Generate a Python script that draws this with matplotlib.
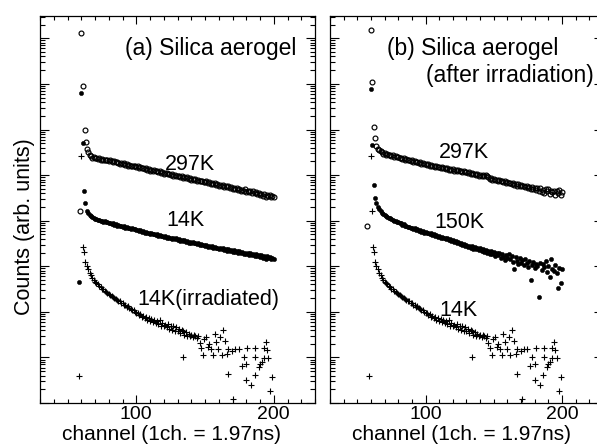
import numpy as np
import matplotlib
matplotlib.use("Agg")
import matplotlib.pyplot as plt
from matplotlib.ticker import LogLocator, NullFormatter, MultipleLocator

plt.rcParams['font.family'] = ['Liberation Sans', 'DejaVu Sans']

# values are log10(counts); channel axis is integer channels

# ---- panel (a) ----
a297_head_ch = [59, 60, 61, 62.5, 63.5, 64.4, 65, 66]
a297_head = [4.21, 8.11, 6.95, 6.00, 5.72, 5.57, 5.50, 5.44]
a297_ch0 = 67
a297 = [5.41, 5.38, 5.39, 5.37, 5.38, 5.36, 5.37, 5.34, 5.35, 5.33,
        5.34, 5.32, 5.33, 5.30, 5.32, 5.31, 5.29, 5.30, 5.28, 5.28,
        5.27, 5.25, 5.27, 5.24, 5.26, 5.23, 5.24, 5.21, 5.23, 5.20,
        5.21, 5.19, 5.20, 5.17, 5.19, 5.16, 5.18, 5.15, 5.16, 5.14,
        5.15, 5.12, 5.13, 5.10, 5.12, 5.09, 5.11, 5.08, 5.10, 5.07,
        5.08, 5.05, 5.07, 5.03, 5.05, 5.04, 5.02, 5.03, 5.00, 5.02,
        4.99, 5.01, 4.98, 4.97, 4.99, 4.95, 4.97, 4.94, 4.96, 4.93,
        4.95, 4.92, 4.93, 4.90, 4.92, 4.89, 4.91, 4.87, 4.89, 4.88,
        4.86, 4.88, 4.85, 4.84, 4.86, 4.82, 4.84, 4.81, 4.83, 4.80,
        4.82, 4.79, 4.80, 4.77, 4.79, 4.76, 4.78, 4.74, 4.76, 4.73,
        4.75, 4.72, 4.74, 4.70, 4.72, 4.69, 4.71, 4.67, 4.70, 4.66,
        4.68, 4.65, 4.69, 4.63, 4.66, 4.62, 4.65, 4.61, 4.64, 4.60,
        4.62, 4.58, 4.61, 4.56, 4.59, 4.55, 4.58, 4.53, 4.57, 4.54,
        4.56, 4.52, 4.55, 4.51]

a14_head_ch = [58.6, 60, 61.5, 62, 63]
a14_head = [2.65, 6.80, 5.70, 4.66, 4.39]
a14_ch0 = 64
a14 = [4.22, 4.16, 4.12, 4.10, 4.08,
       4.06, 4.03, 4.04, 4.01, 4.02, 3.99, 4.00, 3.98, 3.99, 3.96,
       3.97, 3.94, 3.95, 3.92, 3.94, 3.91, 3.92, 3.89, 3.91, 3.88,
       3.89, 3.86, 3.88, 3.85, 3.86, 3.83, 3.85, 3.82, 3.83, 3.81,
       3.81, 3.79, 3.80, 3.77, 3.79, 3.76, 3.77, 3.74, 3.76, 3.73,
       3.74, 3.71, 3.73, 3.70, 3.71, 3.69, 3.70, 3.67, 3.69, 3.66,
       3.67, 3.64, 3.66, 3.63, 3.65, 3.62, 3.63, 3.60, 3.62, 3.59,
       3.61, 3.58, 3.59, 3.56, 3.58, 3.55, 3.57, 3.54, 3.55, 3.52,
       3.54, 3.51, 3.53, 3.50, 3.51, 3.48, 3.50, 3.47, 3.49, 3.46,
       3.47, 3.44, 3.46, 3.43, 3.45, 3.42, 3.44, 3.41, 3.43, 3.40,
       3.41, 3.38, 3.40, 3.37, 3.39, 3.36, 3.38, 3.34, 3.37, 3.33,
       3.36, 3.32, 3.35, 3.31, 3.33, 3.30, 3.33, 3.28, 3.31, 3.27,
       3.30, 3.26, 3.29, 3.24, 3.28, 3.25, 3.27, 3.22, 3.26, 3.23,
       3.25, 3.20, 3.24, 3.19, 3.23, 3.17, 3.22, 3.18, 3.21, 3.16,
       3.19, 3.15]

# 14K after irradiation (same run shows in both panels)
irr_ch0 = 63
irr = [3.10, 3.00, 2.93, 2.85, 2.80, 2.75, 2.70, 2.66, 2.63, 2.60,
       2.57, 2.54, 2.51, 2.49, 2.46, 2.44, 2.41, 2.39, 2.36, 2.35,
       2.33, 2.31, 2.28, 2.27, 2.24, 2.23, 2.20, 2.19, 2.16, 2.15,
       2.11, 2.12, 2.08, 2.07, 2.03, 2.04, 2.00, 1.98, 1.97, 1.93,
       1.95, 1.89, 1.91, 1.86, 1.89, 1.82, 1.87, 1.80, 1.84, 1.77,
       1.82, 1.75, 1.79, 1.74, 1.81, 1.70, 1.76, 1.68, 1.72, 1.66,
       1.74, 1.63, 1.69, 1.60, 1.70, 1.58, 1.66, 1.57, 1.62, 1.54,
       1.60, 1.58, 1.50, 1.55, 1.47, 1.52, 1.46, 1.50, 1.44, 1.49,
       1.48, 1.42, 1.46]
irr_sc_ch = [58.6, 60, 61.5, 62, 133.7,
             146, 147, 148.6, 149.5, 151, 152, 153, 154.5, 156, 157, 158,
             159.5, 161, 162, 163, 164.8, 166, 167, 169.7, 172, 174.5,
             178, 180.6, 186.6, 192.7, 194, 195, 196, 176.7, 180, 186.6,
             189, 190, 191.5, 192.7, 180, 183.5, 186, 167, 170.6, 197.6, 198.9]
irr_sc = [0.60, 5.42, 3.43, 3.32, 1.00,
          1.32, 1.20, 1.06, 1.40, 1.45, 1.23, 1.30, 1.19, 1.06, 1.52, 1.33,
          1.19, 1.45, 1.05, 1.60, 1.36, 1.07, 1.19, 1.15, 1.19, 1.19,
          1.02, 1.21, 1.21, 1.21, 1.34, 1.16, 0.98, 0.82, 0.86, 1.02,
          0.80, 0.85, 0.91, 0.98, 0.50, 0.39, 0.61, 0.64, 0.09, 0.26, 0.57]

# ---- panel (b) ----
b297_head_ch = [57, 60, 61, 62, 63]
b297_head = [3.89, 8.18, 7.05, 6.06, 5.81]
b297_ch0 = 64
b297 = [5.63, 5.58, 5.56, 5.52, 5.51, 5.47, 5.48, 5.45, 5.46, 5.43,
        5.44, 5.41, 5.43, 5.40, 5.41, 5.39, 5.40, 5.37, 5.38, 5.35,
        5.37, 5.34, 5.36, 5.32, 5.34, 5.31, 5.32, 5.29, 5.31, 5.28,
        5.29, 5.27, 5.28, 5.25, 5.26, 5.24, 5.25, 5.22, 5.24, 5.21,
        5.22, 5.20, 5.21, 5.18, 5.20, 5.17, 5.18, 5.16, 5.17, 5.15,
        5.16, 5.14, 5.15, 5.12, 5.14, 5.11, 5.13, 5.10, 5.12, 5.09,
        5.11, 5.08, 5.10, 5.07, 5.08, 5.06, 5.07, 5.04, 5.06, 5.03,
        5.04, 5.02, 5.03, 5.00, 5.02, 4.99, 5.01, 4.98, 5.00, 4.98,
        5.00, 4.97, 4.95, 4.92, 4.93, 4.90, 4.92, 4.89, 4.90, 4.87,
        4.89, 4.86, 4.87, 4.85, 4.86, 4.83, 4.85, 4.82, 4.83, 4.80,
        4.82, 4.79, 4.81, 4.77, 4.80, 4.76, 4.78, 4.75, 4.77, 4.73,
        4.76, 4.72, 4.74, 4.70, 4.73, 4.69, 4.72, 4.67, 4.71, 4.66,
        4.72, 4.63, 4.68, 4.60, 4.69, 4.64, 4.70, 4.58, 4.66, 4.62,
        4.65, 4.56, 4.64, 4.61, 4.67, 4.57, 4.62]

b150_head_ch = [60, 60.7, 62, 63]
b150_head = [6.88, 5.66, 4.78, 4.49]
b150_ch0 = 64
b150 = [4.38, 4.30, 4.25, 4.21, 4.17, 4.15, 4.12, 4.10, 4.08, 4.06,
        4.05, 4.03, 4.02, 3.99, 4.00, 3.97, 3.96, 3.94, 3.95, 3.91,
        3.92, 3.88, 3.89, 3.86, 3.87, 3.84, 3.85, 3.81, 3.83, 3.80,
        3.81, 3.78, 3.79, 3.76, 3.77, 3.74, 3.76, 3.72, 3.74, 3.71,
        3.72, 3.69, 3.71, 3.67, 3.68, 3.65, 3.67, 3.63, 3.65, 3.61,
        3.63, 3.59, 3.61, 3.57, 3.59, 3.55, 3.57, 3.53, 3.55, 3.50,
        3.53, 3.48, 3.51, 3.46, 3.49, 3.44, 3.47, 3.42, 3.45, 3.40,
        3.44, 3.38, 3.42, 3.37, 3.40, 3.35, 3.39, 3.33, 3.37, 3.31,
        3.36, 3.29, 3.34, 3.27, 3.33, 3.26, 3.31, 3.22, 3.29, 3.25,
        3.28, 3.19, 3.26, 3.21, 3.14, 3.24, 3.18, 3.27, 3.15, 3.22,
        3.10, 2.94, 3.20, 3.12, 3.05, 3.18, 3.08, 3.14, 3.02, 3.16,
        3.07, 2.99, 3.12, 2.70, 3.03, 3.10, 2.96, 3.06, 3.00, 2.33,
        3.08, 2.92, 3.04, 2.98, 3.11, 2.88, 3.01, 2.77, 3.15, 2.95,
        2.90, 3.02, 2.86, 2.52, 2.97, 2.64, 2.93]

b14_extra_ch = [60.7]
b14_extra = [4.22]


def chans(ch0, vals):
    return np.arange(ch0, ch0 + len(vals))


def counts(vals):
    return 10.0 ** np.asarray(vals)


open_c = dict(ls='none', marker='o', ms=3.5, mfc='none', mec='black', mew=0.85)
dot_c = dict(ls='none', marker='o', ms=3.0, mfc='black', mec='black', mew=0.4)
plus_c = dict(ls='none', marker='+', ms=5.0, color='black', mew=0.8)


def style_axis(ax):
    ax.set_yscale('log')
    ax.set_xlim(30, 230)
    ax.set_ylim(1, 10 ** 8.49)
    ax.yaxis.set_major_locator(LogLocator(base=10, numticks=20))
    ax.yaxis.set_minor_locator(LogLocator(base=10, subs=np.arange(2, 10), numticks=20))
    ax.yaxis.set_major_formatter(NullFormatter())
    ax.yaxis.set_minor_formatter(NullFormatter())
    ax.xaxis.set_major_locator(MultipleLocator(100))
    ax.xaxis.set_minor_locator(MultipleLocator(10))
    ax.tick_params(which='both', direction='in', top=True, right=True, width=0.8)
    ax.tick_params(axis='y', which='major', length=6.5)
    ax.tick_params(axis='y', which='minor', length=3.3)
    ax.tick_params(axis='x', which='major', length=5.5, labelsize=14, pad=2.5)
    ax.tick_params(axis='x', which='minor', length=3)
    for s in ax.spines.values():
        s.set_linewidth(0.9)
    ax.set_xlabel('channel (1ch. = 1.97ns)', fontsize=15)
    ax.xaxis.set_label_coords(0.48, -0.081)
    ax.xaxis.label.set_va('center')


fig = plt.figure(figsize=(5.97, 4.46), dpi=100)
ax1 = fig.add_axes([40 / 597, 1 - 403 / 446, 275 / 597, 387 / 446])
ax2 = fig.add_axes([330 / 597, 1 - 403 / 446, 273 / 597, 387 / 446])

# (a)
ax1.plot(a297_head_ch, counts(a297_head), **open_c)
ax1.plot(chans(a297_ch0, a297), counts(a297), **open_c)
ax1.plot(a14_head_ch, counts(a14_head), **dot_c)
ax1.plot(chans(a14_ch0, a14), counts(a14), **dot_c)
ax1.plot(chans(irr_ch0, irr), counts(irr), **plus_c)
ax1.plot(irr_sc_ch, counts(irr_sc), **plus_c)

# (b)
ax2.plot(b297_head_ch, counts(b297_head), **open_c)
ax2.plot(chans(b297_ch0, b297), counts(b297), **open_c)
ax2.plot(b150_head_ch, counts(b150_head), **dot_c)
ax2.plot(chans(b150_ch0, b150), counts(b150), **dot_c)
ax2.plot(chans(irr_ch0, irr), counts(irr), **plus_c)
ax2.plot(irr_sc_ch, counts(irr_sc), **plus_c)
ax2.plot(b14_extra_ch, counts(b14_extra), **plus_c)

style_axis(ax1)
style_axis(ax2)

ax1.set_ylabel('Counts (arb. units)', fontsize=15.5)
ax1.yaxis.set_label_coords(-0.058, 0.457)
ax1.yaxis.label.set_va('center')

txt = dict(ha='left', va='center', fontsize=15.5)
ax1.text(91.5, 10 ** 7.78, '(a) Silica aerogel', ha='left', va='center', fontsize=16.5)
ax1.text(121, 10 ** 5.24, '297K', **txt)
ax1.text(122, 10 ** 4.01, '14K', **txt)
ax1.text(101, 10 ** 2.28, '14K(irradiated)', **txt)

ax2.text(71.5, 10 ** 7.78, '(b) Silica aerogel', ha='left', va='center', fontsize=16.5)
ax2.text(100.5, 10 ** 7.18, '(after irradiation)', ha='left', va='center', fontsize=16.5)
ax2.text(110, 10 ** 5.50, '297K', **txt)
ax2.text(106.5, 10 ** 3.95, '150K', **txt)
ax2.text(110, 10 ** 2.04, '14K', **txt)

fig.savefig('out.png', dpi=100)
